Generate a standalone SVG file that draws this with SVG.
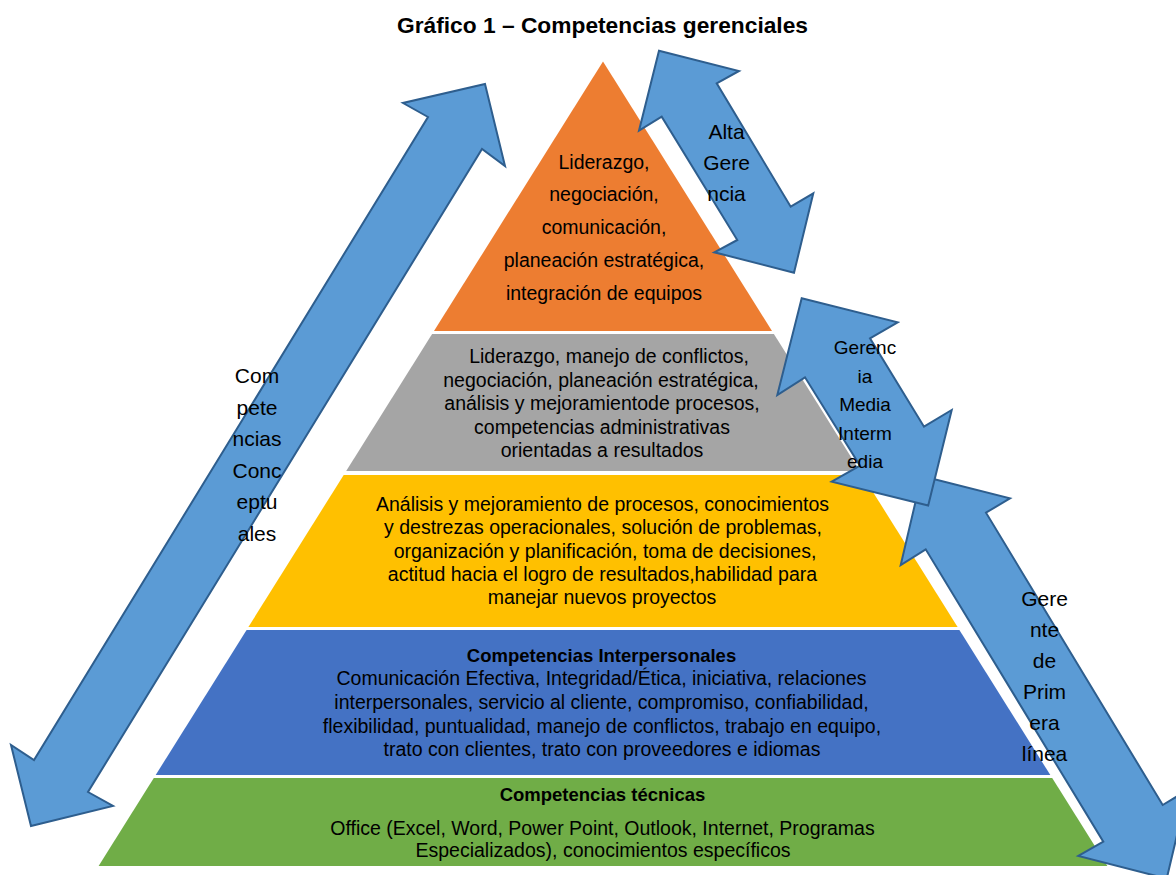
<svg xmlns="http://www.w3.org/2000/svg" width="1176" height="875" viewBox="0 0 1176 875">
<style>
  text { font-family: "Liberation Sans", Arial, sans-serif; fill: #000; text-anchor: middle; }
  .title { font-size: 22.5px; font-weight: bold; }
  .body { font-size: 19.5px; }
  .head { font-size: 18.5px; font-weight: bold; }
  .lbl { font-size: 21px; }
  .lblm { font-size: 19px; }
  .arrow { fill: #5B9BD5; stroke: #2E5E8E; stroke-width: 2; stroke-linejoin: miter; }
</style>
<rect width="1176" height="875" fill="#fff"/>
<text class="title" x="602.5" y="33" textLength="411" lengthAdjust="spacingAndGlyphs">Gráfico 1 – Competencias gerenciales</text>

<g id="nivel-alta">
  <polygon points="603,61.5 772,331 434,331" fill="#ED7D31"/>
  <text class="body" x="604" y="169">Liderazgo,</text>
  <text class="body" x="604" y="201">negociación,</text>
  <text class="body" x="604" y="234">comunicación,</text>
  <text class="body" x="604" y="267">planeación estratégica,</text>
  <text class="body" x="604" y="300">integración de equipos</text>
</g>
<g id="nivel-media">
  <polygon points="432.1,334 773.9,334 859.8,471 346.2,471" fill="#A5A5A5"/>
  <text class="body" x="609" y="363">Liderazgo, manejo de conflictos,</text>
  <text class="body" x="601" y="386.5">negociación, planeación estratégica,</text>
  <text class="body" x="602" y="410">análisis y mejoramientode procesos,</text>
  <text class="body" x="602" y="433.5">competencias administrativas</text>
  <text class="body" x="602" y="457">orientadas a resultados</text>
</g>
<g id="nivel-operativo">
  <polygon points="343.7,475 862.3,475 957.6,627 248.4,627" fill="#FFC000"/>
  <text class="body" x="602.5" y="511">Análisis y mejoramiento de procesos, conocimientos</text>
  <text class="body" x="603" y="534">y destrezas operacionales, solución de problemas,</text>
  <text class="body" x="605" y="557.5">organización y planificación, toma de decisiones,</text>
  <text class="body" x="602.5" y="581">actitud hacia el logro de resultados,habilidad para</text>
  <text class="body" x="602" y="604">manejar nuevos proyectos</text>
</g>
<g id="competencias-interpersonales">
  <polygon points="246.6,630 959.4,630 1050.3,775 155.7,775" fill="#4472C4"/>
  <text class="head" x="601.5" y="662">Competencias Interpersonales</text>
  <text class="body" x="601.5" y="685">Comunicación Efectiva, Integridad/Ética, iniciativa, relaciones</text>
  <text class="body" x="601.5" y="709">interpersonales, servicio al cliente, compromiso, confiabilidad,</text>
  <text class="body" x="602" y="733">flexibilidad, puntualidad, manejo de conflictos, trabajo en equipo,</text>
  <text class="body" x="602" y="756">trato con clientes, trato con proveedores e idiomas</text>
</g>
<g id="competencias-tecnicas">
  <polygon points="153.8,778 1052.2,778 1107.4,866 98.6,866" fill="#70AD47"/>
  <text class="head" x="602.5" y="801">Competencias técnicas</text>
  <text class="body" x="602.5" y="835">Office (Excel, Word, Power Point, Outlook, Internet, Programas</text>
  <text class="body" x="603" y="857">Especializados), conocimientos específicos</text>
</g>

<g id="connectors">
  <g id="flecha-conceptuales">
    <polygon class="arrow" points="485,84 505,166 482,149 88,792 113,806 31,826 11,745 34,760 428,117 403,103"/>
    <text class="lbl" x="257" y="383">Com</text>
    <text class="lbl" x="257" y="414.5">pete</text>
    <text class="lbl" x="257" y="446">ncias</text>
    <text class="lbl" x="257" y="477.5">Conc</text>
    <text class="lbl" x="257" y="509">eptu</text>
    <text class="lbl" x="257" y="540.5">ales</text>
  </g>
  <g id="flecha-alta-gerencia">
    <polygon class="arrow" points="659,50.7 739,71 716.7,83.3 790.7,206.7 813.3,193.3 794,272.7 714.3,252.3 737.3,240 661.7,116.7 639,130.7"/>
    <text class="lbl" x="726.5" y="139">Alta</text>
    <text class="lbl" x="726.5" y="170">Gere</text>
    <text class="lbl" x="726.5" y="201">ncia</text>
  </g>
  <g id="flecha-primera-linea">
    <polygon class="arrow" points="921.6,476 1010,498.3 986,512.7 1162.7,805 1187.7,790 1166.7,878.6 1078.3,856 1103.3,841.7 925.7,549.3 900.7,565"/>
    <text class="lbl" x="1044.5" y="606">Gere</text>
    <text class="lbl" x="1044.5" y="637">nte</text>
    <text class="lbl" x="1044.5" y="668">de</text>
    <text class="lbl" x="1044.5" y="699">Prim</text>
    <text class="lbl" x="1044.5" y="730">era</text>
    <text class="lbl" x="1044.5" y="761">línea</text>
  </g>
  <g id="flecha-media">
    <polygon class="arrow" points="801.7,298.3 897.7,322.3 870,338.3 924,426.7 951.7,410 928.2,505.5 831.7,481.7 860,465.7 805,377.3 777.3,395"/>
    <text class="lblm" x="865" y="354">Gerenc</text>
    <text class="lblm" x="865" y="382.5">ia</text>
    <text class="lblm" x="865" y="411">Media</text>
    <text class="lblm" x="865" y="439.5">Interm</text>
    <text class="lblm" x="865" y="468">edia</text>
  </g>
</g>
</svg>
